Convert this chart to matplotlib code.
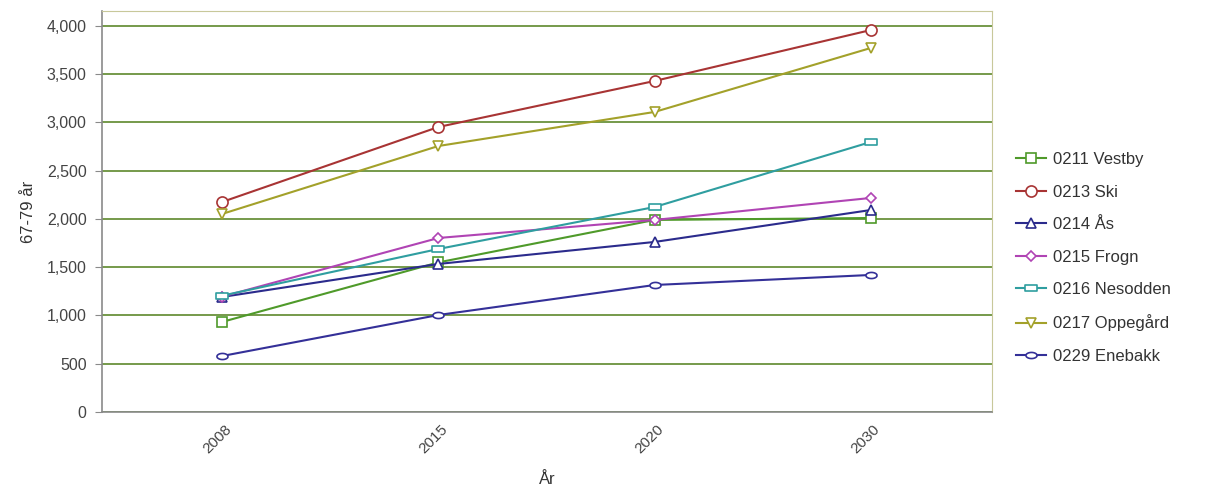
import matplotlib
matplotlib.use("Agg")
import matplotlib.pyplot as plt
import matplotlib.transforms as mtransforms
from matplotlib.path import Path
import numpy as np

plt.rcParams['font.family'] = ['Liberation Sans', 'DejaVu Sans']

years = ["2008", "2015", "2020", "2030"]

vestby = [933, 1550, 1990, 2010]
ski = [2176, 2953, 3430, 3958]
aas = [1192, 1534, 1762, 2093]
frogn = [1195, 1803, 1990, 2218]
nesodden = [1205, 1689, 2124, 2798]
oppegard = [2052, 2756, 3109, 3772]
enebakk = [580, 1005, 1316, 1420]

series_names = ["0211 Vestby", "0213 Ski", "0214 Ås", "0215 Frogn",
                "0216 Nesodden", "0217 Oppegård", "0229 Enebakk"]
series_values = [vestby, ski, aas, frogn, nesodden, oppegard, enebakk]
series_colors = ["#4f9a2a", "#a83434", "#2b2b8c", "#b044b4",
                 "#2f9ea0", "#a3a12a", "#343098"]

# flat markers for Nesodden (bar) and Enebakk (oval)
flat_rect = Path([(-1, -0.45), (1, -0.45), (1, 0.45), (-1, 0.45), (-1, -0.45)],
                 [Path.MOVETO, Path.LINETO, Path.LINETO, Path.LINETO, Path.CLOSEPOLY])
t = np.linspace(0, 2 * np.pi, 40)
oval = Path(np.column_stack([np.cos(t), 0.55 * np.sin(t)]))
series_markers = ["s", "o", "^", "D", flat_rect, "v", oval]
series_msize = [7, 8, 7, 5.5, 9, 7, 8]

fig = plt.figure(figsize=(12.05, 4.95), dpi=100)
ax = fig.add_axes([102 / 1205, 83 / 495, 890 / 1205, 401 / 495])

x = np.arange(len(years))
for name, vals, col, mk, ms in zip(series_names, series_values, series_colors,
                                   series_markers, series_msize):
    ax.plot(x, vals, color=col, lw=1.5, marker=mk, markersize=ms,
            markerfacecolor="white", markeredgecolor=col, markeredgewidth=1.2,
            label=name, zorder=3)

ax.set_xlim(-0.555, 3.56)
ax.set_ylim(0, 4155)
ax.set_yticks(np.arange(0, 4001, 500))
ax.set_yticklabels([f"{v:,}" for v in range(0, 4001, 500)], fontsize=11.5)
ax.set_xticks(x)
ax.set_xticklabels([])

# rotated year labels, placed just below the axis and nudged slightly left
label_trans = mtransforms.offset_copy(ax.get_xaxis_transform(), fig=fig,
                                      x=-5, y=-27, units="dots")
for xi, yr in zip(x, years):
    ax.text(xi, 0, yr, transform=label_trans, rotation=45, ha="center",
            va="center", fontsize=11, color="#444444", clip_on=False)

ax.yaxis.grid(True, color="#4f7f1a", lw=1.1)
ax.set_axisbelow(True)
for side in ("top", "right"):
    ax.spines[side].set_color("#c8c89a")
for side in ("left", "bottom"):
    ax.spines[side].set_color("#8a8a8a")
    ax.spines[side].set_linewidth(1.2)

ax.tick_params(axis="both", colors="#8a8a8a", labelcolor="#444444", length=5)
ax.tick_params(axis="y", pad=6)
ax.tick_params(axis="x", length=0)

ax.set_ylabel("67-79 år", fontsize=12, color="#333333", labelpad=8)

# x-axis title under the year labels
title_trans = mtransforms.offset_copy(ax.transAxes, fig=fig, x=0, y=-68,
                                      units="dots")
ax.text(0.5, 0, "År", transform=title_trans, ha="center", va="center",
        fontsize=12, color="#333333", clip_on=False)

leg = ax.legend(loc="center left", bbox_to_anchor=(1.01, 0.384), frameon=False,
                fontsize=12, handlelength=1.8, labelspacing=1.05,
                handletextpad=0.4, labelcolor="#333333")

fig.savefig("out.png", dpi=100, facecolor="white")
